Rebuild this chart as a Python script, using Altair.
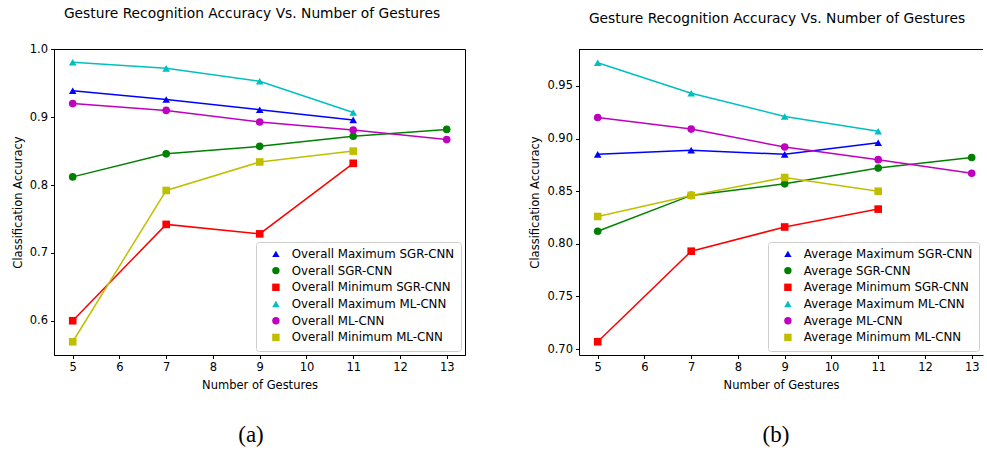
import altair as alt
import pandas as pd

# Number of gestures on the x axis
gestures_4 = [5, 7, 9, 11]
gestures_5 = [5, 7, 9, 11, 13]

# Panel (a): overall accuracy
ovr_names = [
    "Overall Maximum SGR-CNN",
    "Overall SGR-CNN",
    "Overall Minimum SGR-CNN",
    "Overall Maximum ML-CNN",
    "Overall ML-CNN",
    "Overall Minimum ML-CNN",
]
ovr_max_sgr = [0.939, 0.926, 0.911, 0.896]
ovr_sgr = [0.812, 0.846, 0.857, 0.872, 0.882]
ovr_min_sgr = [0.600, 0.742, 0.728, 0.832]
ovr_max_ml = [0.981, 0.972, 0.953, 0.907]
ovr_ml = [0.920, 0.910, 0.893, 0.881, 0.867]
ovr_min_ml = [0.569, 0.792, 0.834, 0.850]

# Panel (b): average accuracy
avg_names = [
    "Average Maximum SGR-CNN",
    "Average SGR-CNN",
    "Average Minimum SGR-CNN",
    "Average Maximum ML-CNN",
    "Average ML-CNN",
    "Average Minimum ML-CNN",
]
avg_max_sgr = [0.885, 0.889, 0.885, 0.896]
avg_sgr = [0.812, 0.846, 0.857, 0.872, 0.882]
avg_min_sgr = [0.707, 0.793, 0.816, 0.833]
avg_max_ml = [0.972, 0.943, 0.921, 0.907]
avg_ml = [0.920, 0.909, 0.892, 0.880, 0.867]
avg_min_ml = [0.826, 0.846, 0.863, 0.850]

series_colors = ["#0000ff", "#008000", "#ff0000", "#00bfbf", "#bf00bf", "#bfbf00"]
series_shapes = ["triangle-up", "circle", "square", "triangle-up", "circle", "square"]

TITLE = "Gesture Recognition Accuracy Vs. Number of Gestures"
FONT = "DejaVu Sans"
H = 306
PX_PER_GESTURE = 46.75
TEXT_CENTER = 197  # horizontal centre of title and caption, from the plot's left edge


def long_table(names, series):
    rows = []
    for name, vals in zip(names, series):
        xs = gestures_5 if len(vals) == 5 else gestures_4
        for x, v in zip(xs, vals):
            rows.append({"series": name, "gestures": x, "accuracy": v})
    return pd.DataFrame(rows)


def panel(names, series, ydomain, yticks, yfmt, caption, width, open_right=False):
    df = long_table(names, series)
    base = alt.Chart(df)
    x = alt.X(
        "gestures:Q",
        scale=alt.Scale(domain=[4.6, 4.6 + width / PX_PER_GESTURE], nice=False, zero=False),
        axis=alt.Axis(values=list(range(5, 14)), format="d", title="Number of Gestures"),
    )
    y = alt.Y(
        "accuracy:Q",
        scale=alt.Scale(domain=ydomain, nice=False, zero=False),
        axis=alt.Axis(values=yticks, format=yfmt, title="Classification Accuracy"),
    )
    color_scale = alt.Scale(domain=names, range=series_colors)
    shape_scale = alt.Scale(domain=names, range=series_shapes)

    lines = base.mark_line(strokeWidth=1.5).encode(
        x=x, y=y,
        color=alt.Color("series:N", scale=color_scale, sort=names, title=None),
    )
    points = base.mark_point(filled=True, size=58, opacity=1).encode(
        x=x, y=y,
        color=alt.Color("series:N", scale=color_scale, sort=names, title=None),
        shape=alt.Shape("series:N", scale=shape_scale, sort=names, title=None),
    )
    cap = alt.Chart(pd.DataFrame({"cap": [caption]})).mark_text(
        font="Liberation Serif", fontSize=23, color="black", baseline="middle"
    ).encode(
        text="cap:N",
        x=alt.value(TEXT_CENTER),
        y=alt.value(H + 80),
    )
    layers = [lines, points, cap]
    props = dict(
        width=width, height=H,
        title=alt.TitleParams(TITLE, fontSize=13.8, font=FONT, fontWeight="normal",
                              color="black", offset=23, dx=TEXT_CENTER + 1 - width / 2),
    )
    if open_right:
        # frame runs off the right edge: top spine only, no right spine
        top = alt.Chart(pd.DataFrame({"edge": [0]})).mark_rule(
            color="black", strokeWidth=1
        ).encode(x=alt.value(0), x2=alt.value(width), y=alt.value(0.5))
        layers.append(top)
        props["view"] = alt.ViewBackground(stroke="transparent")
    return alt.layer(*layers).properties(**props)


left = panel(
    ovr_names,
    [ovr_max_sgr, ovr_sgr, ovr_min_sgr, ovr_max_ml, ovr_ml, ovr_min_ml],
    [0.5495, 1.0005], [0.6, 0.7, 0.8, 0.9, 1.0], ".1f", "(a)", 411,
)
right = panel(
    avg_names,
    [avg_max_sgr, avg_sgr, avg_min_sgr, avg_max_ml, avg_ml, avg_min_ml],
    [0.6944, 0.9851], [0.70, 0.75, 0.80, 0.85, 0.90, 0.95], ".2f", "(b)", 404,
    open_right=True,
)

chart = alt.hconcat(left, right, spacing=63).resolve_scale(
    color="independent", shape="independent",
).resolve_legend(
    color="independent", shape="independent",
).properties(
    padding={"left": 11, "top": 6, "right": 0, "bottom": 0},
).configure(
    font=FONT,
).configure_view(
    stroke="black", strokeWidth=1,
).configure_axis(
    domainColor="black", tickColor="black", tickSize=3.5, grid=False,
    labelFont=FONT, titleFont=FONT, labelFontSize=11.5, titleFontSize=11.5,
    labelColor="black", titleColor="black", titleFontWeight="normal",
    labelPadding=3, titlePadding=6,
).configure_legend(
    orient="bottom-right", offset=4,
    fillColor="white", strokeColor="#cccccc", cornerRadius=3,
    padding=6, rowPadding=3.7, symbolOffset=8, labelOffset=10, labelLimit=300,
    labelFont=FONT, labelFontSize=11.8, labelColor="black",
    symbolSize=55, symbolStrokeWidth=0,
)

chart.save("out.html", embed_options={"renderer": "svg", "actions": False})
